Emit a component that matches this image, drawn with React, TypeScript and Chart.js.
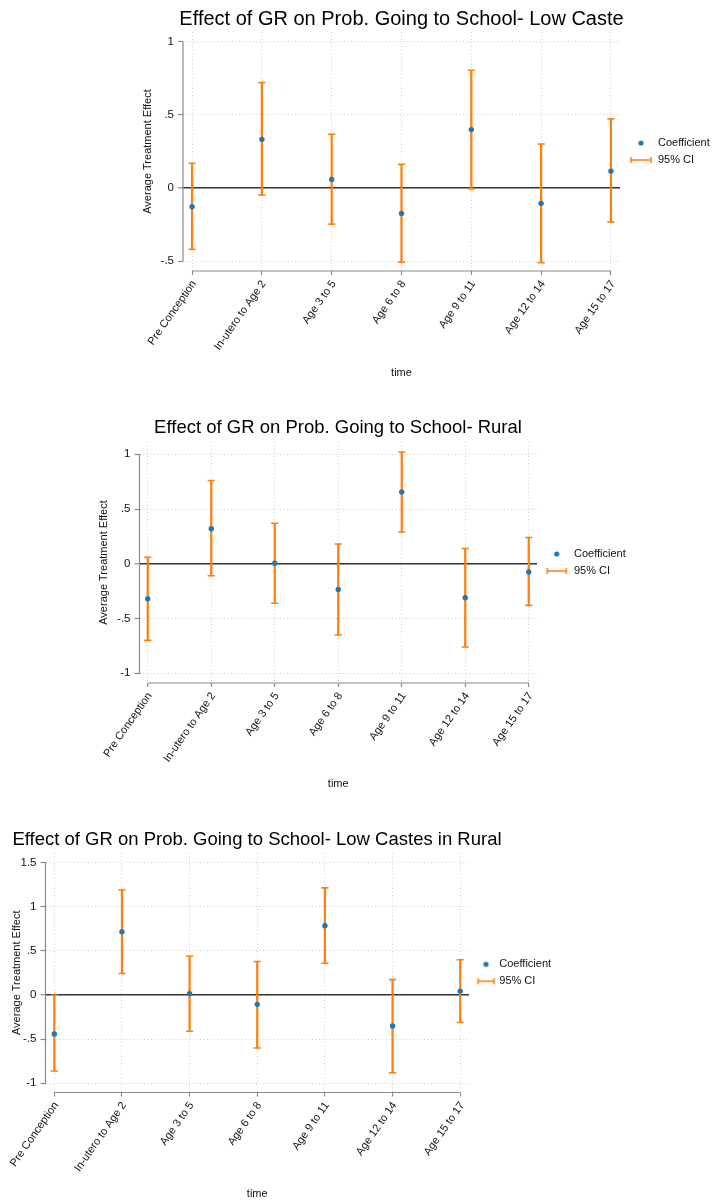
import React, { useEffect, useRef } from 'react';
import { Chart, registerables } from 'chart.js';

Chart.register(...registerables);

// ---------------- data ----------------
const categories = [
  'Pre Conception',
  'In-utero to Age 2',
  'Age 3 to 5',
  'Age 6 to 8',
  'Age 9 to 11',
  'Age 12 to 14',
  'Age 15 to 17',
];

const legendLabels = ['Coefficient', '95% CI'];
const yAxisTitle = 'Average Treatment Effect';
const xAxisTitle = 'time';

const title1 = 'Effect of GR on Prob. Going to School- Low Caste';
const coef1 = [-0.128, 0.333, 0.059, -0.174, 0.4, -0.105, 0.116];
const lower1 = [-0.42, -0.048, -0.247, -0.507, -0.005, -0.511, -0.233];
const upper1 = [0.169, 0.721, 0.368, 0.162, 0.806, 0.301, 0.473];
const yTicks1 = [-0.5, 0, 0.5, 1];

const title2 = 'Effect of GR on Prob. Going to School- Rural';
const coef2 = [-0.32, 0.32, 0.005, -0.235, 0.655, -0.31, -0.075];
const lower2 = [-0.7, -0.11, -0.36, -0.65, 0.29, -0.76, -0.38];
const upper2 = [0.06, 0.76, 0.37, 0.18, 1.02, 0.14, 0.24];
const yTicks2 = [-1, -0.5, 0, 0.5, 1];

const title3 = 'Effect of GR on Prob. Going to School- Low Castes in Rural';
const coef3 = [-0.44, 0.717, 0.015, -0.105, 0.785, -0.35, 0.045];
const lower3 = [-0.86, 0.245, -0.41, -0.6, 0.36, -0.88, -0.31];
const upper3 = [0.0, 1.19, 0.44, 0.38, 1.215, 0.175, 0.4];
const yTicks3 = [-1, -0.5, 0, 0.5, 1, 1.5];

// ---------------- layout / style ----------------
const FONT = '"Liberation Sans", Arial, Helvetica, sans-serif';
const BLUE = '#1f77b4';
const ORANGE = '#ff7f0e';
const GRID = '#cdcdcd';
const AXIS = '#8a8a8a';

const frame1 = { left: 89, width: 625, top: 0, height: 384, yMin: -0.568, yMax: 1.068, xPad: 0.13, yW: 94, yTitlePad: 52.4, legendW: 94, xH: 113, titleSize: 20, tPadTop: 7, tPadBot: 1, xtPadBot: 4.4, bw: 26.5, symOff: 1.75, symW: 20 };
const frame2 = { left: 44, width: 588, top: 400, height: 395, yMin: -1.089, yMax: 1.112, xPad: 0.13, yW: 95.5, yTitlePad: 53.4, legendW: 95, xH: 112, titleSize: 18.5, tPadTop: 16.9, tPadBot: 2.9, xtPadBot: 4.4, bw: 25.5, symOff: 1.0, symW: 19 };
const frame3 = { left: -43, width: 600, top: 810, height: 391, yMin: -1.104, yMax: 1.61, xPad: 0.13, yW: 88.5, yTitlePad: 53.7, legendW: 88, xH: 108.5, titleSize: 18.5, tPadTop: 18.9, tPadBot: 1.9, xtPadBot: 0, bw: 18.8, symOff: 1.6, symW: 16 };

const charts = [
  { title: title1, coef: coef1, lower: lower1, upper: upper1, yTicks: yTicks1, frame: frame1 },
  { title: title2, coef: coef2, lower: lower2, upper: upper2, yTicks: yTicks2, frame: frame2 },
  { title: title3, coef: coef3, lower: lower3, upper: upper3, yTicks: yTicks3, frame: frame3 },
];

Chart.defaults.font.family = FONT;
Chart.defaults.color = '#111';

const fmt = (v: number) => (v === 0 ? '0' : String(v).replace(/^(-?)0\./, '$1.'));

const stataAxes = {
  id: 'stataAxes',
  beforeDatasetsDraw(chart: any) {
    const { ctx, chartArea, scales } = chart;
    const x = scales.x;
    const y = scales.y;
    const yv = y.ticks.map((t: any) => t.value);
    const xv = x.ticks.map((t: any) => t.value);
    ctx.save();
    ctx.strokeStyle = AXIS;
    ctx.lineWidth = 1.2;
    ctx.beginPath();
    ctx.moveTo(chartArea.left, y.getPixelForValue(Math.max(...yv)));
    ctx.lineTo(chartArea.left, y.getPixelForValue(Math.min(...yv)));
    ctx.moveTo(x.getPixelForValue(Math.min(...xv)), chartArea.bottom);
    ctx.lineTo(x.getPixelForValue(Math.max(...xv)), chartArea.bottom);
    ctx.stroke();
    ctx.restore();
  },
};

function makeDot(off: number) {
  const c = document.createElement('canvas');
  c.width = 40;
  c.height = 12;
  const g = c.getContext('2d')!;
  g.fillStyle = BLUE;
  g.beginPath();
  g.arc(20 + off, 6, 2.6, 0, Math.PI * 2);
  g.fill();
  return c;
}

function makeCI(off: number, w: number) {
  const c = document.createElement('canvas');
  c.width = 40;
  c.height = 12;
  const g = c.getContext('2d')!;
  g.strokeStyle = ORANGE;
  g.lineWidth = 1.6;
  const cx = 20 + off;
  g.beginPath();
  g.moveTo(cx - w / 2, 6);
  g.lineTo(cx + w / 2, 6);
  g.moveTo(cx - w / 2, 3);
  g.lineTo(cx - w / 2, 9);
  g.moveTo(cx + w / 2, 3);
  g.lineTo(cx + w / 2, 9);
  g.stroke();
  return c;
}

function EffectChart({ spec }: { spec: any }) {
  const ref = useRef<HTMLCanvasElement | null>(null);
  useEffect(() => {
    const { title, coef, lower, upper, yTicks, frame: f } = spec;
    const dot = makeDot(f.symOff);
    const ci = makeCI(f.symOff, f.symW);
    const chart = new Chart(ref.current!, {
      type: 'scatter',
      data: {
        datasets: [
          {
            label: legendLabels[0],
            data: categories.map((_, i) => ({ x: i, y: coef[i] })),
            backgroundColor: BLUE,
            borderColor: BLUE,
            pointRadius: 2.7,
            pointBorderWidth: 0,
            pointHoverRadius: 2.7,
          },
          {
            label: 'caps',
            data: [
              ...categories.map((_, i) => ({ x: i, y: lower[i] })),
              ...categories.map((_, i) => ({ x: i, y: upper[i] })),
            ],
            pointStyle: 'line',
            pointRadius: 3.6,
            pointHoverRadius: 3.6,
            borderColor: ORANGE,
            backgroundColor: ORANGE,
            pointBorderWidth: 1.6,
          } as any,
          {
            type: 'bar',
            label: legendLabels[1],
            data: categories.map((_, i) => ({ x: i, y: [lower[i], upper[i]] })),
            backgroundColor: ORANGE,
            borderWidth: 0,
            barThickness: 1.6,
          } as any,
        ],
      },
      plugins: [stataAxes],
      options: {
        responsive: false,
        animation: false,
        devicePixelRatio: 1,
        events: [],
        layout: { padding: 0 },
        plugins: {
          tooltip: { enabled: false },
          title: {
            display: true,
            text: title,
            color: '#000',
            font: { size: f.titleSize, weight: 'normal' },
            padding: { top: f.tPadTop, bottom: f.tPadBot },
          },
          legend: {
            display: true,
            position: 'right',
            fullSize: false,
            align: 'center',
            maxWidth: f.legendW,
            labels: {
              usePointStyle: true,
              pointStyleWidth: f.bw,
              padding: 6,
              color: '#111',
              font: { size: 11 },
              generateLabels: () => [
                { text: legendLabels[0], pointStyle: dot, fillStyle: BLUE, strokeStyle: BLUE, lineWidth: 0, hidden: false, datasetIndex: 0, fontColor: '#111' },
                { text: legendLabels[1], pointStyle: ci, fillStyle: ORANGE, strokeStyle: ORANGE, lineWidth: 0, hidden: false, datasetIndex: 2, fontColor: '#111' },
              ],
            },
          },
        },
        scales: {
          x: {
            type: 'linear',
            offset: false,
            min: -f.xPad,
            max: categories.length - 1 + f.xPad,
            afterBuildTicks: (s: any) => {
              s.ticks = categories.map((_, i) => ({ value: i }));
            },
            afterFit: (s: any) => {
              s.height = f.xH;
            },
            ticks: {
              autoSkip: false,
              minRotation: 55,
              maxRotation: 55,
              padding: 3,
              labelOffset: 2,
              color: '#111',
              font: { size: 11 },
              callback: (v: any) => categories[v] ?? '',
            },
            grid: {
              offset: false,
              color: GRID,
              lineWidth: 1,
              tickColor: AXIS,
              tickLength: 4,
              tickWidth: 1.2,
            },
            border: { display: false, dash: [1, 2.5] },
            title: {
              display: true,
              text: xAxisTitle,
              color: '#111',
              font: { size: 11 },
              padding: { top: 4, bottom: f.xtPadBot },
            },
          },
          y: {
            type: 'linear',
            min: f.yMin,
            max: f.yMax,
            afterBuildTicks: (s: any) => {
              s.ticks = yTicks.map((v: number) => ({ value: v }));
            },
            afterFit: (s: any) => {
              s.width = f.yW;
            },
            ticks: {
              padding: 4,
              color: '#111',
              font: { size: 11.5 },
              callback: (v: any) => fmt(Number(v)),
            },
            grid: {
              color: (c: any) => (c.tick && c.tick.value === 0 ? '#333' : GRID),
              lineWidth: (c: any) => (c.tick && c.tick.value === 0 ? 1.6 : 1),
              tickColor: AXIS,
              tickLength: 5,
              tickWidth: 1.2,
            },
            border: {
              display: false,
              dash: (c: any) => (c.tick && c.tick.value === 0 ? [] : [1, 2.5]),
            } as any,
            title: {
              display: true,
              text: yAxisTitle,
              color: '#111',
              font: { size: 11 },
              padding: { top: f.yTitlePad, bottom: 4 },
            },
          },
        },
      } as any,
    });
    return () => chart.destroy();
  }, [spec]);
  const f = spec.frame;
  return (
    <canvas
      ref={ref}
      width={f.width}
      height={f.height}
      style={{ position: 'absolute', left: f.left, top: f.top, width: f.width, height: f.height }}
    />
  );
}

export default function App() {
  return (
    <div style={{ position: 'absolute', left: 0, top: 0, width: 714, height: 1202, overflow: 'hidden', background: '#fff' }}>
      {charts.map((c, i) => (
        <EffectChart key={i} spec={c} />
      ))}
    </div>
  );
}
